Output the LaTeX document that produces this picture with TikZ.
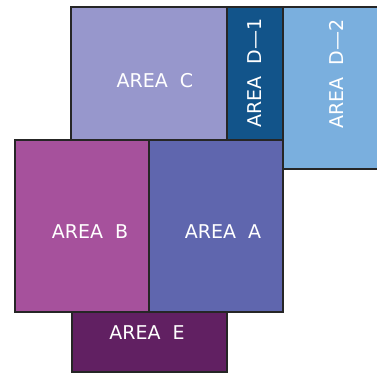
\documentclass[tikz,border=0pt]{standalone}
\usepackage{fontspec}
\setmainfont{DejaVu Sans}
\definecolor{cC}{RGB}{151,151,204}
\definecolor{cD1}{RGB}{18,84,138}
\definecolor{cD2}{RGB}{122,175,222}
\definecolor{cB}{RGB}{166,81,156}
\definecolor{cA}{RGB}{95,102,174}
\definecolor{cE}{RGB}{97,32,98}
\tikzset{
  area/.style={draw=black!85, line width=1.8pt},
  lbl/.style={text=white, font=\fontsize{19}{19}\selectfont, inner sep=0pt, anchor=center},
}
\begin{document}
\begin{tikzpicture}[x=1pt,y=-1pt]
\useasboundingbox (0,0) rectangle (377,374);
% floor areas
\path[area, fill=cD2] (283,7) rectangle (380,169);
\path[area, fill=cC] (71,7) rectangle (227,140);
\path[area, fill=cD1] (227,7) rectangle (283,140);
\path[area, fill=cB] (15,140) rectangle (149,312);
\path[area, fill=cA] (149,140) rectangle (283,312);
\path[area, fill=cE] (72,312) rectangle (227,372);
% labels
\node[lbl] (lc) at (155,81) {AREA\ \ C};
\node[lbl, rotate=90] (ld1) at (255,73) {AREA\ \ D—1};
\node[lbl, rotate=90] (ld2) at (336,74) {AREA\ \ D—2};
\node[lbl] (lb) at (90,232) {AREA\ \ B};
\node[lbl] (la) at (223,232) {AREA\ \ A};
\node[lbl] (le) at (147,333) {AREA\ \ E};
\end{tikzpicture}
\end{document}
